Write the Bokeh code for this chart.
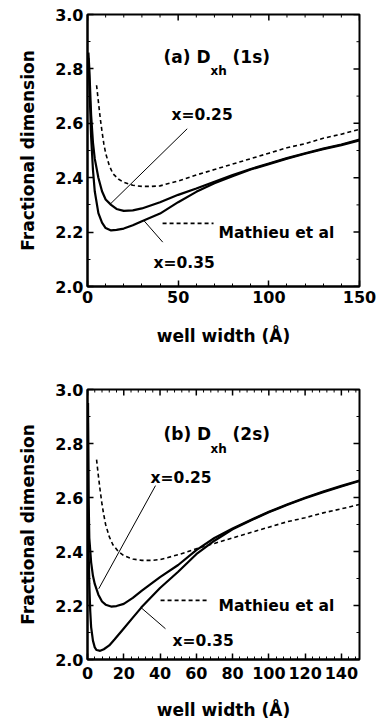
import math
from bokeh.plotting import figure
from bokeh.layouts import column
from bokeh.models import FixedTicker, PrintfTickFormatter
from bokeh.core.properties import value
from bokeh.embed import file_html
from bokeh.resources import INLINE

# ---------- data: panel (a) Dxh (1s) ----------
a_x25 = [0.5, 1, 2, 3, 4, 6, 8, 10, 13, 16, 20, 25, 30, 40, 50, 60, 70, 80, 90, 100, 110, 120, 130, 140, 150]
a_y25 = [2.86, 2.80, 2.63, 2.53, 2.47, 2.40, 2.35, 2.32, 2.30, 2.285, 2.278, 2.28, 2.287, 2.31, 2.337, 2.36, 2.385, 2.41, 2.432, 2.452, 2.472, 2.49, 2.507, 2.522, 2.54]
a_x35 = [0.5, 1, 2, 3, 4, 6, 8, 10, 13, 16, 20, 25, 30, 40, 50, 60, 70, 80, 90, 100, 110, 120, 130, 140, 150]
a_y35 = [2.84, 2.75, 2.55, 2.43, 2.35, 2.27, 2.235, 2.215, 2.206, 2.208, 2.213, 2.225, 2.24, 2.268, 2.31, 2.348, 2.38, 2.405, 2.43, 2.45, 2.47, 2.488, 2.505, 2.52, 2.537]
a_xm = [5, 6, 7, 8, 9, 10, 12, 14, 17, 20, 25, 30, 35, 40, 50, 60, 70, 80, 90, 100, 110, 120, 130, 140, 150]
a_ym = [2.74, 2.68, 2.62, 2.57, 2.525, 2.49, 2.445, 2.415, 2.395, 2.383, 2.372, 2.368, 2.368, 2.37, 2.388, 2.41, 2.43, 2.45, 2.47, 2.49, 2.51, 2.525, 2.545, 2.56, 2.578]

# ---------- data: panel (b) Dxh (2s) ----------
b_x25 = [0.3, 0.6, 1, 2, 3, 4, 6, 8, 10, 13, 16, 20, 25, 30, 40, 50, 60, 70, 80, 90, 100, 110, 120, 130, 140, 150]
b_y25 = [2.95, 2.6, 2.45, 2.36, 2.31, 2.28, 2.24, 2.215, 2.203, 2.196, 2.198, 2.206, 2.228, 2.255, 2.305, 2.35, 2.405, 2.45, 2.485, 2.517, 2.547, 2.574, 2.599, 2.622, 2.643, 2.663]
b_x35 = [0.2, 0.4, 0.7, 1, 1.5, 2, 3, 4, 5, 7, 9, 12, 15, 20, 25, 30, 40, 50, 60, 70, 80, 90, 100, 110, 120, 130, 140, 150]
b_y35 = [2.95, 2.6, 2.38, 2.28, 2.18, 2.12, 2.07, 2.045, 2.035, 2.032, 2.038, 2.052, 2.075, 2.115, 2.155, 2.195, 2.265, 2.325, 2.39, 2.44, 2.482, 2.515, 2.545, 2.572, 2.597, 2.62, 2.641, 2.661]
b_xm = [5, 6, 7, 8, 9, 10, 12, 14, 17, 20, 25, 30, 35, 40, 50, 60, 70, 80, 90, 100, 110, 120, 130, 140, 150]
b_ym = [2.74, 2.68, 2.625, 2.575, 2.535, 2.50, 2.455, 2.425, 2.40, 2.385, 2.372, 2.367, 2.367, 2.37, 2.388, 2.41, 2.43, 2.45, 2.47, 2.49, 2.51, 2.525, 2.543, 2.558, 2.574]

y_ticks = [2.0, 2.2, 2.4, 2.6, 2.8, 3.0]
y_minor = [2.1, 2.3, 2.5, 2.7, 2.9]
a_xticks = [0, 50, 100, 150]
a_xminor = [10, 20, 30, 40, 60, 70, 80, 90, 110, 120, 130, 140]
b_xticks = [0, 20, 40, 60, 80, 100, 120, 140]
b_xminor = [v for v in range(0, 151, 4) if v % 20 != 0]

FONT = "DejaVu Sans"
X0, X1, Y0, Y1 = 0, 150, 2.0, 3.0


def style_axis(ax, standoff):
    ax.axis_line_width = 2
    ax.axis_line_color = "black"
    ax.major_tick_in = 6
    ax.major_tick_out = 0
    ax.minor_tick_in = 3
    ax.minor_tick_out = 0
    ax.major_tick_line_width = 1.5
    ax.minor_tick_line_width = 1
    ax.major_label_text_font = FONT
    ax.major_label_text_font_style = "bold"
    ax.major_label_text_color = "black"
    ax.major_label_text_font_size = "16px"
    ax.major_label_standoff = standoff
    ax.axis_label_text_font = FONT
    ax.axis_label_text_font_style = "bold"
    ax.axis_label_text_font_size = "17px"
    ax.axis_label_text_color = "black"


def make_panel(h, top, bottom, xt, xm, curves, dashed, tag, sub, tail,
               title_y, sub_y, l25, l35, p25, p35, leg, xstand, xlab_stand):
    p = figure(width=380, height=h, x_range=(X0, X1), y_range=(Y0, Y1),
               output_backend="svg", toolbar_location=None,
               min_border_left=87, min_border_right=21,
               min_border_top=top, min_border_bottom=bottom)
    p.xgrid.visible = False
    p.ygrid.visible = False
    p.outline_line_color = "black"
    p.outline_line_width = 2
    p.background_fill_color = "white"
    p.border_fill_color = "white"

    p.xaxis.ticker = FixedTicker(ticks=xt, minor_ticks=xm)
    p.yaxis.ticker = FixedTicker(ticks=y_ticks, minor_ticks=y_minor)
    p.xaxis.formatter = PrintfTickFormatter(format="%d")
    p.yaxis.formatter = PrintfTickFormatter(format="%.1f")
    p.xaxis.axis_label = "well width (Å)"
    p.yaxis.axis_label = "Fractional dimension"
    style_axis(p.xaxis[0], xstand)
    style_axis(p.yaxis[0], 4)
    p.xaxis.axis_label_standoff = xlab_stand
    p.yaxis.axis_label_standoff = 14

    # mirrored inward ticks on top and right edges (markers clipped by the frame)
    p.scatter(x=xt, y=[Y1] * len(xt), marker="dash", angle=math.pi / 2, size=12,
              line_color="black", line_width=1.5)
    p.scatter(x=xm, y=[Y1] * len(xm), marker="dash", angle=math.pi / 2, size=6,
              line_color="black", line_width=1)
    p.scatter(x=[X1] * len(y_ticks), y=y_ticks, marker="dash", size=12,
              line_color="black", line_width=1.5)
    p.scatter(x=[X1] * len(y_minor), y=y_minor, marker="dash", size=6,
              line_color="black", line_width=1)

    for cx, cy in curves:
        p.line(cx, cy, line_color="black", line_width=2.2)
    p.line(dashed[0], dashed[1], line_color="black", line_width=1.6, line_dash="4 3")

    # annotation pointers
    p.line([p25[0], p25[2]], [p25[1], p25[3]], line_color="black", line_width=1)
    p.line([p35[0], p35[2]], [p35[1], p35[3]], line_color="black", line_width=1)

    # legend sample for Mathieu et al
    p.line([leg[0], leg[1]], [leg[2], leg[2]], line_color="black", line_width=1.6, line_dash="4 3")

    tf = value(FONT)
    kw = dict(text_font=tf, text_font_style="bold", text_baseline="alphabetic",
              text_align="left", text_color="black")
    p.text(x=[41.9], y=[title_y], text=[tag + " D"], text_font_size="17px", **kw)
    p.text(x=[67.8], y=[sub_y], text=[sub], text_font_size="12px", **kw)
    p.text(x=[80], y=[title_y], text=[tail], text_font_size="17px", **kw)
    p.text(x=[l25[0]], y=[l25[1]], text=["x=0.25"], text_font_size="15.5px", **kw)
    p.text(x=[l35[0]], y=[l35[1]], text=["x=0.35"], text_font_size="15.5px", **kw)
    p.text(x=[leg[3]], y=[leg[4]], text=["Mathieu et al"], text_font_size="15.5px", **kw)
    return p


p1 = make_panel(360, 14, 74, a_xticks, a_xminor,
                [(a_x25, a_y25), (a_x35, a_y35)], (a_xm, a_ym),
                "(a)", "xh", "(1s)", 2.842, 2.794,
                (46.3, 2.629), (36.4, 2.088),
                (55, 2.58, 12.7, 2.304), (31, 2.243, 41.5, 2.163),
                (41.4, 69.5, 2.232, 72.3, 2.195), 4, 20)
p2 = make_panel(365, 29, 66, b_xticks, b_xminor,
                [(b_x25, b_y25), (b_x35, b_y35)], (b_xm, b_ym),
                "(b)", "xh", "(2s)", 2.837, 2.781,
                (34.7, 2.674), (46.9, 2.07),
                (37.5, 2.644, 6.2, 2.262), (29.2, 2.194, 43, 2.114),
                (40.3, 66.7, 2.219, 72.3, 2.2), 7, 18)

layout = column(p1, p2, spacing=0)
open("out.html", "w").write(file_html(layout, INLINE))
